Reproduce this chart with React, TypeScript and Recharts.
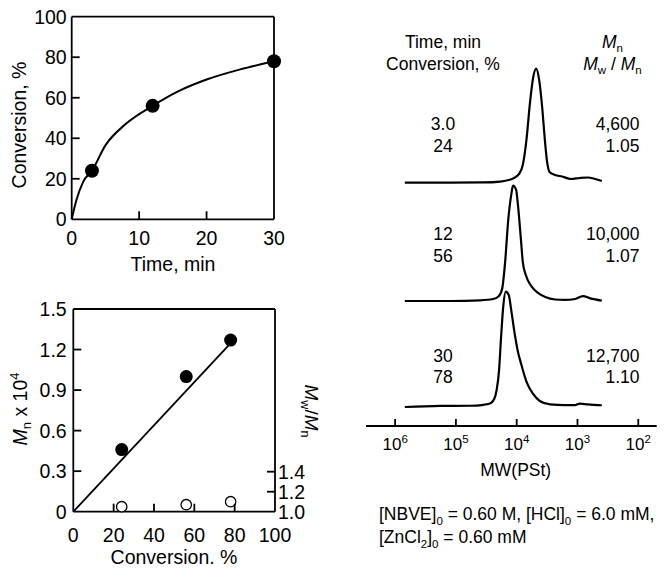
import React from 'react';
import { ComposedChart, Line, Scatter, XAxis, YAxis, ReferenceLine } from 'recharts';

const FONT = '"Liberation Sans", Arial, Helvetica, sans-serif';
const INK = '#000';

// ---------- Panel A: conversion vs time ----------
const timeMin = [3, 12, 30];
const conversionPct = [24, 56, 78];
const fitTimeMin = [0, 0.7, 1.7, 3, 5, 8, 12, 16, 20, 25, 30];
const fitConversionPct = [0, 9.5, 18.5, 24, 36.5, 47, 56, 63.5, 69, 74, 78];
const timeTicks = [0, 10, 20, 30];
const convTicksA = [0, 20, 40, 60, 80, 100];

// ---------- Panel B: Mn and Mw/Mn vs conversion ----------
const conversionB = [24, 56, 78];
const mnTimes1e4 = [0.46, 1.0, 1.27];
const mwOverMn = [1.05, 1.07, 1.1];
const theoryConversion = [0, 77];
const theoryMn = [0, 1.23];
const convTicksB = [0, 20, 40, 60, 80, 100];
const mnTicks = [0, 0.3, 0.6, 0.9, 1.2, 1.5];
const pdiTicks = [1.0, 1.2, 1.4];

// ---------- Panel C: GPC traces (x = log10 MW, signal = % of peak) ----------
const mwExponents = [6, 5, 4, 3, 2];
const trace3LogMW = [5.84, 5.1, 4.55, 4.27, 4.06, 3.96, 3.9, 3.84, 3.78, 3.73, 3.68, 3.63, 3.58, 3.54, 3.5, 3.46, 3.37, 3.25, 3.11, 2.96, 2.83, 2.71, 2.6];
const trace3Signal = [0, 0, 0.2, 1.0, 3.7, 7.6, 15.4, 37, 70, 91, 99, 89, 65, 39, 18, 9.3, 6.7, 5.4, 3.2, 4.1, 4.5, 3.2, 1.5];
const trace12LogMW = [5.84, 5.1, 4.6, 4.39, 4.3, 4.24, 4.19, 4.14, 4.09, 4.06, 4.01, 3.98, 3.93, 3.9, 3.85, 3.75, 3.65, 3.53, 3.37, 3.21, 3.04, 2.91, 2.79, 2.6];
const trace12Signal = [0, 0, 0.6, 1.7, 3.9, 10.4, 34, 70, 92, 100, 96.5, 83.5, 53, 34, 22.6, 12.2, 7.0, 3.5, 1.3, 0.9, 1.7, 4.3, 2.3, 0.4];
const trace30LogMW = [5.84, 5.26, 4.77, 4.57, 4.44, 4.37, 4.33, 4.29, 4.26, 4.22, 4.18, 4.13, 4.09, 4.03, 3.98, 3.93, 3.84, 3.73, 3.62, 3.45, 3.21, 3.04, 2.96, 2.83, 2.6];
const trace30Signal = [0, 0.9, 1.1, 1.7, 3.0, 6.9, 14.7, 32, 58, 88, 100, 97, 84, 62.5, 48, 38, 22, 11.3, 5.2, 2.2, 1.7, 1.7, 3.0, 2.2, 1.5];

const runTime = ['3.0', '12', '30'];
const runConversion = ['24', '56', '78'];
const runMn = ['4,600', '10,000', '12,700'];
const runPdi = ['1.05', '1.07', '1.10'];

// ---------- tables for the library ----------
const zip = (xs: number[], ys: number[]) => xs.map((x, i) => ({ x, y: ys[i] }));
const ptsA = zip(timeMin, conversionPct);
const fitA = zip(fitTimeMin, fitConversionPct);
const ptsMn = zip(conversionB, mnTimes1e4);
const ptsPdi = zip(conversionB, mwOverMn);
const theory = zip(theoryConversion, theoryMn);

// layout of the stacked traces (vertical offsets in chart units, 1 unit = 1 px)
const TRACE_SCALE = 1.153;
const stack = (xs: number[], ys: number[], base: number) =>
  xs.map((x, i) => ({ x, y: base + ys[i] * TRACE_SCALE }));
const tr3 = stack(trace3LogMW, trace3Signal, 243.3);
const tr12 = stack(trace12LogMW, trace12Signal, 125);
const tr30 = stack(trace30LogMW, trace30Signal, 19);

const AX = { stroke: INK, strokeWidth: 1.8 };
const LSIZE = 19.5;

const makeBottomTick = (marks: number[], gap: number, fmt: (v: number) => string) => (p: any) => {
  const { x, y, payload } = p;
  const v = payload.value;
  return (
    <g>
      {marks.includes(v) && <line x1={x} y1={y} x2={x} y2={y - 8} stroke={INK} strokeWidth={1.8} />}
      <text x={x} y={y + gap} textAnchor="middle" fontFamily={FONT} fontSize={LSIZE} fill={INK}>
        {fmt(v)}
      </text>
    </g>
  );
};
const makeLeftTick = (marks: number[], gap: number, fmt: (v: number) => string) => (p: any) => {
  const { x, y, payload } = p;
  const v = payload.value;
  return (
    <g>
      {marks.includes(v) && <line x1={x} y1={y} x2={x + 8} y2={y} stroke={INK} strokeWidth={1.8} />}
      <text x={x - gap} y={y + 7} textAnchor="end" fontFamily={FONT} fontSize={LSIZE} fill={INK}>
        {fmt(v)}
      </text>
    </g>
  );
};
const makeRightTick = (marks: number[], fmt: (v: number) => string) => (p: any) => {
  const { x, y, payload } = p;
  const v = payload.value;
  return (
    <g>
      {marks.includes(v) && <line x1={x} y1={y} x2={x - 8} y2={y} stroke={INK} strokeWidth={1.8} />}
      <text x={x + 3} y={y + 7} textAnchor="start" fontFamily={FONT} fontSize={LSIZE} fill={INK}>
        {fmt(v)}
      </text>
    </g>
  );
};
const PowTick = (p: any) => {
  const { x, y, payload } = p;
  return (
    <g>
      <line x1={x} y1={y} x2={x} y2={y - 7} stroke={INK} strokeWidth={1.8} />
      <text x={x} y={y + 23.5} textAnchor="middle" fontFamily={FONT} fontSize={17} fill={INK}>
        10
        <tspan fontSize={11.5} dy={-6.5}>
          {payload.value}
        </tspan>
      </text>
    </g>
  );
};

const num = (v: number) => String(v);
const mnFmt = (v: number) => (v === 0 ? '0' : v.toFixed(1));
const pdiFmt = (v: number) => v.toFixed(1);

const dotFilled = (r: number) => (p: any) => <circle cx={p.cx} cy={p.cy} r={r} fill={INK} />;
const dotOpen = (p: any) => <circle cx={p.cx} cy={p.cy} r={5.2} fill="#fff" stroke={INK} strokeWidth={1.3} />;

function PanelA() {
  return (
    <ComposedChart width={300} height={285} margin={{ top: 16.7, right: 26, bottom: 35.7, left: 11.7 }}>
      <XAxis
        type="number"
        dataKey="x"
        domain={[0, 30]}
        ticks={timeTicks}
        interval={0}
        tickSize={0}
        tickMargin={0}
        tickLine={false}
        axisLine={AX}
        height={30}
        tick={makeBottomTick([10, 20], 26, num)}
      />
      <YAxis
        type="number"
        dataKey="y"
        domain={[0, 100]}
        ticks={convTicksA}
        interval={0}
        tickSize={0}
        tickMargin={0}
        tickLine={false}
        axisLine={AX}
        width={60}
        tick={makeLeftTick([20, 40, 60, 80], 5, num)}
      />
      <ReferenceLine x={30} stroke={INK} strokeWidth={1.8} />
      <ReferenceLine y={100} stroke={INK} strokeWidth={1.8} />
      <Line data={fitA} dataKey="y" type="monotone" stroke={INK} strokeWidth={2} dot={false} activeDot={false} isAnimationActive={false} />
      <Scatter data={ptsA} dataKey="y" fill={INK} shape={dotFilled(7)} isAnimationActive={false} />
    </ComposedChart>
  );
}

function PanelB() {
  return (
    <ComposedChart width={340} height={279} margin={{ top: 19, right: 15, bottom: 27.3, left: 13.3 }}>
      <XAxis
        type="number"
        dataKey="x"
        domain={[0, 100]}
        ticks={convTicksB}
        interval={0}
        tickSize={0}
        tickMargin={0}
        tickLine={false}
        axisLine={AX}
        height={30}
        tick={makeBottomTick([20, 40, 60, 80], 30.3, num)}
      />
      <YAxis
        yAxisId="mn"
        type="number"
        dataKey="y"
        domain={[0, 1.5]}
        ticks={mnTicks}
        interval={0}
        tickSize={0}
        tickMargin={0}
        tickLine={false}
        axisLine={AX}
        width={60}
        tick={makeLeftTick([0.3, 0.6, 0.9, 1.2], 6.6, mnFmt)}
      />
      <YAxis
        yAxisId="pdi"
        orientation="right"
        type="number"
        dataKey="y"
        domain={[1, 3.027]}
        ticks={pdiTicks}
        interval={0}
        tickSize={0}
        tickMargin={0}
        tickLine={false}
        axisLine={AX}
        width={50}
        tick={makeRightTick([1.2, 1.4], pdiFmt)}
      />
      <ReferenceLine yAxisId="mn" y={1.5} stroke={INK} strokeWidth={1.8} />
      <Line yAxisId="mn" data={theory} dataKey="y" type="linear" stroke={INK} strokeWidth={1.8} dot={false} activeDot={false} isAnimationActive={false} />
      <Scatter yAxisId="mn" data={ptsMn} dataKey="y" fill={INK} shape={dotFilled(6.5)} isAnimationActive={false} />
      <Scatter yAxisId="pdi" data={ptsPdi} dataKey="y" fill="#fff" shape={dotOpen} isAnimationActive={false} />
    </ComposedChart>
  );
}

function PanelC() {
  return (
    <ComposedChart width={324} height={500} margin={{ top: 30, right: 7.3, bottom: 44, left: 26 }}>
      <XAxis
        type="number"
        dataKey="x"
        domain={[1.697, 6.479]}
        allowDataOverflow
        reversed
        ticks={mwExponents}
        interval={0}
        tickSize={0}
        tickMargin={0}
        tickLine={false}
        axisLine={AX}
        height={30}
        tick={PowTick}
      />
      <YAxis type="number" dataKey="y" domain={[0, 396]} allowDataOverflow hide width={0} />
      <Line data={tr3} dataKey="y" type="monotone" stroke={INK} strokeWidth={2.2} dot={false} activeDot={false} isAnimationActive={false} />
      <Line data={tr12} dataKey="y" type="monotone" stroke={INK} strokeWidth={2.2} dot={false} activeDot={false} isAnimationActive={false} />
      <Line data={tr30} dataKey="y" type="monotone" stroke={INK} strokeWidth={2.2} dot={false} activeDot={false} isAnimationActive={false} />
    </ComposedChart>
  );
}

const T = ({ x, y, children, anchor = 'middle', size = 17.5, rotate }: any) => (
  <text
    x={x}
    y={y}
    textAnchor={anchor}
    fontFamily={FONT}
    fontSize={size}
    fill={INK}
    transform={rotate ? `rotate(${rotate} ${x} ${y})` : undefined}
  >
    {children}
  </text>
);

const rowY = [130, 240, 361.7];

export default function App() {
  return (
    <div style={{ position: 'absolute', left: 0, top: 0, width: 664, height: 569, background: '#fff', overflow: 'hidden', fontFamily: FONT }}>
      <div style={{ position: 'absolute', left: 0, top: 0 }}>
        <PanelA />
      </div>
      <div style={{ position: 'absolute', left: 0, top: 290 }}>
        <PanelB />
      </div>
      <div style={{ position: 'absolute', left: 340, top: 0 }}>
        <PanelC />
      </div>
      <svg width={664} height={569} style={{ position: 'absolute', left: 0, top: 0, pointerEvents: 'none' }}>
        {/* Panel A titles */}
        <T x={25.7} y={125} size={LSIZE} rotate={-90}>Conversion, %</T>
        <T x={173} y={270.5} size={LSIZE}>Time, min</T>
        {/* Panel B titles */}
        <T x={26.7} y={409} size={LSIZE} rotate={-90}>
          <tspan fontStyle="italic">M</tspan>
          <tspan fontSize={13} dy={4}>n</tspan>
          <tspan dy={-4}> x 10</tspan>
          <tspan fontSize={13} dy={-8}>4</tspan>
        </T>
        <T x={305} y={411} size={19} rotate={90}>
          <tspan fontStyle="italic">M</tspan>
          <tspan fontSize={12.5} dy={4}>w</tspan>
          <tspan dy={-4}>/</tspan>
          <tspan fontStyle="italic">M</tspan>
          <tspan fontSize={12.5} dy={4}>n</tspan>
        </T>
        <T x={174} y={564} size={LSIZE}>Conversion. %</T>
        {/* Panel C headers */}
        <T x={443} y={48}>Time, min</T>
        <T x={443} y={70}>Conversion, %</T>
        <T x={612.5} y={48}>
          <tspan fontStyle="italic">M</tspan>
          <tspan fontSize={11.5} dy={4}>n</tspan>
        </T>
        <T x={612.5} y={70}>
          <tspan fontStyle="italic">M</tspan>
          <tspan fontSize={11.5} dy={4}>w</tspan>
          <tspan dy={-4}> / </tspan>
          <tspan fontStyle="italic">M</tspan>
          <tspan fontSize={11.5} dy={4}>n</tspan>
        </T>
        {runTime.map((t, i) => (
          <g key={t}>
            <T x={443} y={rowY[i]}>{t}</T>
            <T x={443} y={rowY[i] + 21.7}>{runConversion[i]}</T>
            <T x={639.5} y={rowY[i]} anchor="end">{runMn[i]}</T>
            <T x={639.5} y={rowY[i] + 21.7} anchor="end">{runPdi[i]}</T>
          </g>
        ))}
        <T x={515.7} y={476}>MW(PSt)</T>
        <T x={379} y={520} anchor="start">
          [NBVE]<tspan fontSize={11.5} dy={5}>0</tspan>
          <tspan dy={-5}> = 0.60 M, [HCl]</tspan>
          <tspan fontSize={11.5} dy={5}>0</tspan>
          <tspan dy={-5}> = 6.0 mM,</tspan>
        </T>
        <T x={379} y={543} anchor="start">
          [ZnCl<tspan fontSize={11.5} dy={5}>2</tspan>
          <tspan dy={-5}>]</tspan>
          <tspan fontSize={11.5} dy={5}>0</tspan>
          <tspan dy={-5}> = 0.60 mM</tspan>
        </T>
      </svg>
    </div>
  );
}
